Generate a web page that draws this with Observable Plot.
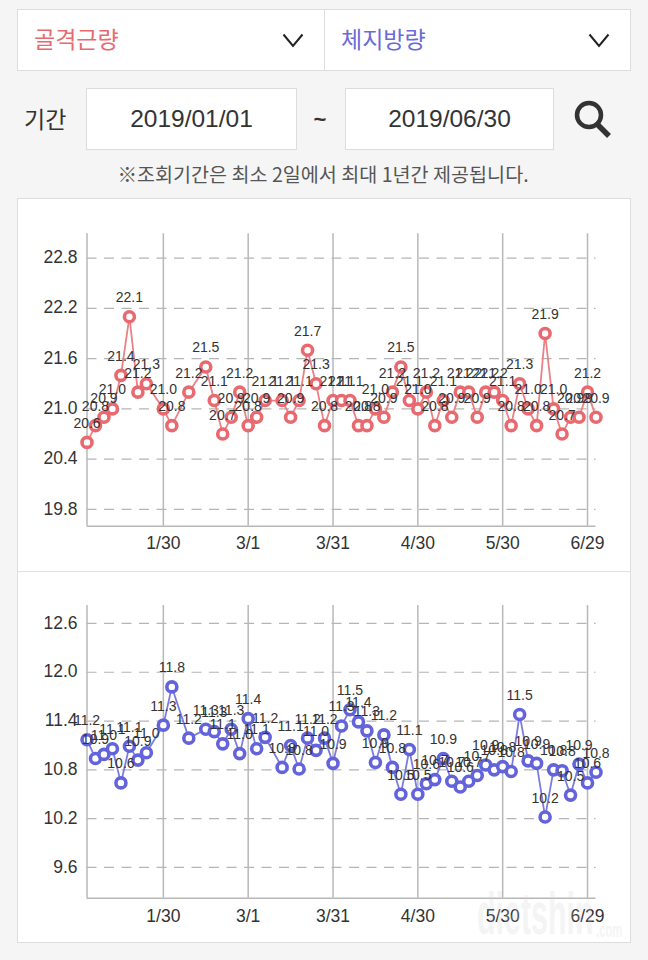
<!DOCTYPE html>
<html><head><meta charset="utf-8">
<script src="https://cdn.jsdelivr.net/npm/d3@7"></script>
<script src="https://cdn.jsdelivr.net/npm/@observablehq/plot@0.6"></script>
<style>
html,body{margin:0;padding:0;background:#f5f5f5;}
#page{position:relative;width:648px;height:960px;overflow:hidden;font-family:"Liberation Sans","Noto Sans CJK KR",sans-serif;color:#333;}
.box{position:absolute;background:#fff;border:1px solid #ddd;box-sizing:border-box;}
.t{position:absolute;white-space:nowrap;font-family:"Noto Sans CJK KR",sans-serif;}
.d{position:absolute;font-family:"Liberation Sans",sans-serif;font-size:24.5px;text-align:center;color:#333;line-height:60px;}
svg.ic{position:absolute;overflow:visible;}
.chart{position:absolute;left:18px;}
.wm{position:absolute;font-family:"Liberation Sans",sans-serif;font-weight:bold;color:#cfcfcf;opacity:.22;white-space:nowrap;transform-origin:left top;line-height:1;}
</style></head><body>
<div id="page">
  <div class="box" style="left:17px;top:9px;width:614px;height:62px;"></div>
  <div style="position:absolute;left:324px;top:10px;width:1px;height:60px;background:#ddd;"></div>
  <div class="t" style="left:34px;top:22px;font-size:23px;line-height:32px;color:#e8696f;">골격근량</div>
  <div class="t" style="left:341px;top:22px;font-size:23px;line-height:32px;color:#6a6ad8;">체지방량</div>
  <svg class="ic" style="left:282px;top:33px;" width="22" height="14"><path d="M1.5 1.5L11 13L20.5 1.5" fill="none" stroke="#222" stroke-width="2"/></svg>
  <svg class="ic" style="left:588px;top:33px;" width="22" height="14"><path d="M1.5 1.5L11 13L20.5 1.5" fill="none" stroke="#222" stroke-width="2"/></svg>
  <div class="t" style="left:24px;top:102px;font-size:23px;line-height:32px;color:#333;">기간</div>
  <div class="box" style="left:86px;top:88px;width:211px;height:62px;"></div>
  <div class="d" style="left:86px;top:89px;width:211px;">2019/01/01</div>
  <div class="d" style="left:312px;top:90px;width:16px;font-size:22px;font-weight:bold;">~</div>
  <div class="box" style="left:345px;top:88px;width:209px;height:62px;"></div>
  <div class="d" style="left:345px;top:89px;width:209px;">2019/06/30</div>
  <svg class="ic" style="left:572px;top:100px;" width="40" height="40"><circle cx="17" cy="15" r="12" fill="none" stroke="#333" stroke-width="4.5"/><path d="M25 24L37 36" stroke="#333" stroke-width="5.5"/></svg>
  <div class="t" style="left:0;width:646px;text-align:center;top:161px;font-size:19.6px;line-height:26px;color:#555;">※조회기간은 최소 2일에서 최대 1년간 제공됩니다.</div>
  <div class="box" style="left:17px;top:198px;width:614px;height:745px;"></div>
  <div style="position:absolute;left:18px;top:571px;width:612px;height:1px;background:#e2e2e2;"></div>
  <div id="c1" class="chart" style="top:199px;"></div>
  <div id="c2" class="chart" style="top:572px;"></div>
  <div class="wm" style="left:477px;top:884px;font-size:38px;transform:scale(.8,1.55);">dietshin</div>
  <div class="wm" style="left:596px;top:920px;font-size:15px;transform:scale(.75,1.3);">.com</div>
</div>
<script>
const dates = ["1/3","1/6","1/9","1/12","1/15","1/18","1/21","1/24","1/27","1/30",
  "2/2","2/5","2/8","2/11","2/14","2/17","2/20","2/23","2/26","3/1",
  "3/4","3/7","3/10","3/13","3/16","3/19","3/22","3/25","3/28","3/31",
  "4/3","4/6","4/9","4/12","4/15","4/18","4/21","4/24","4/27","4/30",
  "5/3","5/6","5/9","5/12","5/15","5/18","5/21","5/24","5/27","5/30",
  "6/2","6/5","6/8","6/11","6/14","6/17","6/20","6/23","6/26","6/29","7/2"];
const muscle = [20.6,20.8,20.9,21.0,21.4,22.1,21.2,21.3,null,21.0,
  20.8,null,21.2,null,21.5,21.1,20.7,20.9,21.2,20.8,
  20.9,21.1,null,21.1,20.9,21.1,21.7,21.3,20.8,21.1,
  21.1,21.1,20.8,20.8,21.0,20.9,21.2,21.5,21.1,21.0,
  21.2,20.8,21.1,20.9,21.2,21.2,20.9,21.2,21.2,21.1,
  20.8,21.3,21.0,20.8,21.9,21.0,20.7,20.9,20.9,21.2,20.9];
const fat = [11.17,10.94,10.99,11.06,10.64,11.09,10.92,11.01,null,11.35,
  11.82,null,11.19,null,11.30,11.27,11.12,11.30,11.00,11.43,
  11.06,11.20,null,10.83,11.10,10.81,11.19,11.04,11.19,10.88,
  11.34,11.54,11.39,11.28,10.89,11.23,10.83,10.50,11.05,10.50,
  10.63,10.68,10.94,10.66,10.59,10.66,10.73,10.86,10.80,10.84,
  10.78,11.48,10.91,10.88,10.22,10.80,10.79,10.49,10.87,10.64,10.77];
const xTicks = ["1/30","3/1","3/31","4/30","5/30","6/29"];
const muscleTicks = [19.8,20.4,21.0,21.6,22.2,22.8];
const fatTicks = [9.6,10.2,10.8,11.4,12.0,12.6];

function chart(values, ticks, domain, color, lineColor, h, top, bottom, xPad) {
  const rows = dates.map((d,i)=>({d,v:values[i]})).filter(r=>r.v!=null);
  return Plot.plot({
    width:612, height:h, marginLeft:68.5, marginRight:34.5, marginTop:top, marginBottom:bottom,
    style:{background:"transparent",overflow:"visible"},
    x:{type:"point",domain:dates,padding:0,align:0,round:false},
    y:{domain},
    marks:[
      Plot.ruleY(ticks,{stroke:"#b5b5b5",strokeWidth:1.2,strokeDasharray:"10 7.5"}),
      Plot.ruleX(xTicks,{x:d=>d,stroke:"#b8b8b8",strokeWidth:1.5}),
      Plot.ruleX([dates[0]],{x:d=>d,stroke:"#b8b8b8",strokeWidth:1.5}),
      Plot.ruleY([domain[0]],{stroke:"#b8b8b8",strokeWidth:1.5}),
      Plot.axisY({ticks,tickSize:0,tickPadding:9.5,tickFormat:d=>d.toFixed(1),fontSize:17.5,fill:"#333",label:null,fontFamily:"Liberation Sans",dy:-0.5}),
      Plot.axisX({ticks:xTicks,tickSize:0,tickPadding:xPad,fontSize:17.5,fill:"#333",label:null,fontFamily:"Liberation Sans"}),
      Plot.line(rows,{x:"d",y:"v",stroke:lineColor,strokeWidth:1.8,curve:"linear"}),
      Plot.dot(rows,{x:"d",y:"v",r:5,stroke:color,strokeWidth:3.6,fill:"#fff"}),
      Plot.text(rows,{x:"d",y:"v",text:r=>r.v.toFixed(1),dy:-19,fontSize:14,fill:"#333",fontFamily:"Liberation Sans"})
    ]
  });
}
document.getElementById("c1").append(chart(muscle,muscleTicks,[19.6,23.09],"#e8696f","#ec8085",372,34.3,45.3,10));
document.getElementById("c2").append(chart(fat,fatTicks,[9.222,12.821],"#6363dc","#7c7ce0",370,33,44.3,11));
</script>
</body></html>
